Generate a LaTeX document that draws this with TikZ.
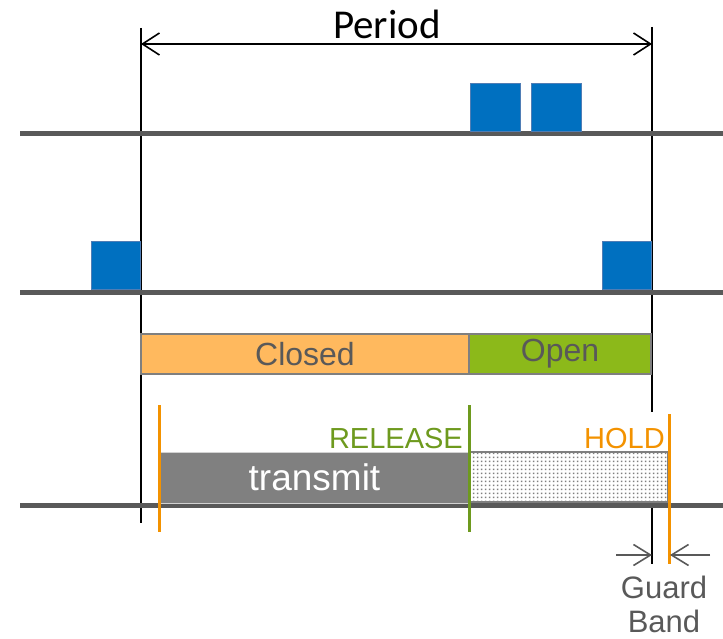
\documentclass[tikz,border=0pt]{standalone}
\usepackage{fontspec}
\setmainfont{Liberation Sans}
\newfontfamily\periodfont{Carlito}
\usetikzlibrary{patterns,arrows.meta}
\pgfdeclarepatternformonly{sqdots}{\pgfqpoint{0pt}{0pt}}{\pgfqpoint{4pt}{4pt}}{\pgfqpoint{4pt}{4pt}}{%
  \pgfpathrectangle{\pgfqpoint{1pt}{1pt}}{\pgfqpoint{2pt}{2pt}}\pgfusepath{fill}}
\definecolor{linegray}{HTML}{595959}
\definecolor{pblue}{HTML}{0070C0}
\definecolor{pblueedge}{HTML}{4F7DB5}
\definecolor{closedor}{HTML}{FFB95E}
\definecolor{opengr}{HTML}{8CB91A}
\definecolor{holdor}{HTML}{F39200}
\definecolor{relgr}{HTML}{6E9A1E}
\definecolor{txtgray}{HTML}{595959}
\definecolor{barborder}{HTML}{7F7F7F}
\definecolor{txbar}{HTML}{808080}
\tikzset{
  timeline/.style={draw=linegray, line width=5pt},
  marker/.style={draw=black, line width=2.6pt},
  blue box/.style={draw=pblueedge, line width=0.8pt, fill=pblue, inner sep=0pt, outer sep=0pt, minimum width=50pt, minimum height=48pt, anchor=south west},
  gatebar/.style={draw=barborder, line width=1.5pt, inner sep=0pt, outer sep=0pt, minimum height=40pt, anchor=north west, text=txtgray, font=\fontsize{32}{32}\selectfont},
  bigtext/.style={font=\fontsize{31}{31}\selectfont},
  smalltext/.style={font=\fontsize{29}{29}\selectfont, inner sep=0pt},
  gbarrow/.style={draw=linegray, line width=1.6pt, -{Straight Barb[length=17pt,width=21pt,line width=1.6pt]}}
}
\begin{document}
\begin{tikzpicture}[x=1pt,y=-1pt]
\useasboundingbox (0,0) rectangle (723,639);
% vertical period markers
\coordinate (Ltop) at (141,28);
\coordinate (Lbot) at (141,523);
\coordinate (Rtop) at (652,27);
\coordinate (Rmid) at (652,412);
\coordinate (Rlow) at (652,505);
\coordinate (Rbot) at (652,564);
\draw[marker] (Ltop) -- (Lbot);
\draw[marker] (Rtop) -- (Rmid);
\draw[marker] (Rlow) -- (Rbot);
% timelines
\coordinate (t1a) at (20,134); \coordinate (t1b) at (723,134);
\coordinate (t2a) at (20,292); \coordinate (t2b) at (723,292);
\coordinate (t3a) at (20,505); \coordinate (t3b) at (723,505);
\draw[timeline] (t1a) -- (t1b);
\draw[timeline] (t2a) -- (t2b);
\draw[timeline] (t3a) -- (t3b);
% frames
\node[blue box] (f1) at (470.5,131.5) {};
\node[blue box] (f2) at (531.5,131.5) {};
\node[blue box, minimum width=49pt] (f3) at (91.5,289.5) {};
\node[blue box, minimum width=49pt] (f4) at (602.5,289.5) {};
% period arrow
\coordinate (pa) at (141,44);
\coordinate (pb) at (652,44);
\draw[line width=1.6pt, {Straight Barb[length=17pt,width=22pt,line width=1.6pt]}-{Straight Barb[length=17pt,width=22pt,line width=1.6pt]}] (pa) -- (pb);
\node[font=\periodfont\fontsize{41}{41}\selectfont, anchor=base, inner sep=0pt] (period) at (387,39) {Period};
% gate bars
\node[gatebar, fill=closedor, minimum width=328pt] (closed) at (141,334) {Closed};
\node[gatebar, fill=opengr, minimum width=182pt] (open) at (469,334) {Open};
% transmit and hold
\node[draw=white!65!gray, line width=1pt, fill=txbar, inner sep=0pt, outer sep=0pt, minimum width=309pt, minimum height=51pt, anchor=north west, text=white, font=\fontsize{37}{37}\selectfont] (tx) at (160,452) {transmit};
\node[draw=barborder, line width=1.5pt, pattern=sqdots, pattern color=txbar, inner sep=0pt, outer sep=0pt, minimum width=199pt, minimum height=50pt, anchor=north west] (hold) at (469,452) {};
% release/hold markers
\coordinate (o1a) at (159,405); \coordinate (o1b) at (159,532);
\coordinate (g1a) at (469,405); \coordinate (g1b) at (469,532);
\coordinate (o2a) at (669,414); \coordinate (o2b) at (669,564);
\draw[draw=holdor, line width=3pt] (o1a) -- (o1b);
\draw[draw=relgr, line width=3pt] (g1a) -- (g1b);
\draw[draw=holdor, line width=3pt] (o2a) -- (o2b);
\node[smalltext, text=relgr, anchor=base east] (release) at (463,448) {RELEASE};
\node[smalltext, text=holdor, anchor=base east] (holdlbl) at (665,448) {HOLD};
% guard band
\coordinate (ga) at (616,555);
\coordinate (gb) at (710,555);
\coordinate (gm1) at (652,555);
\coordinate (gm2) at (670,555);
\draw[gbarrow] (ga) -- (gm1);
\draw[gbarrow] (gb) -- (gm2);
\node[bigtext, text=txtgray, anchor=base, inner sep=0pt] (guard) at (664,598) {Guard};
\node[bigtext, text=txtgray, anchor=base, inner sep=0pt] (band) at (664,632) {Band};
\end{tikzpicture}
\end{document}
